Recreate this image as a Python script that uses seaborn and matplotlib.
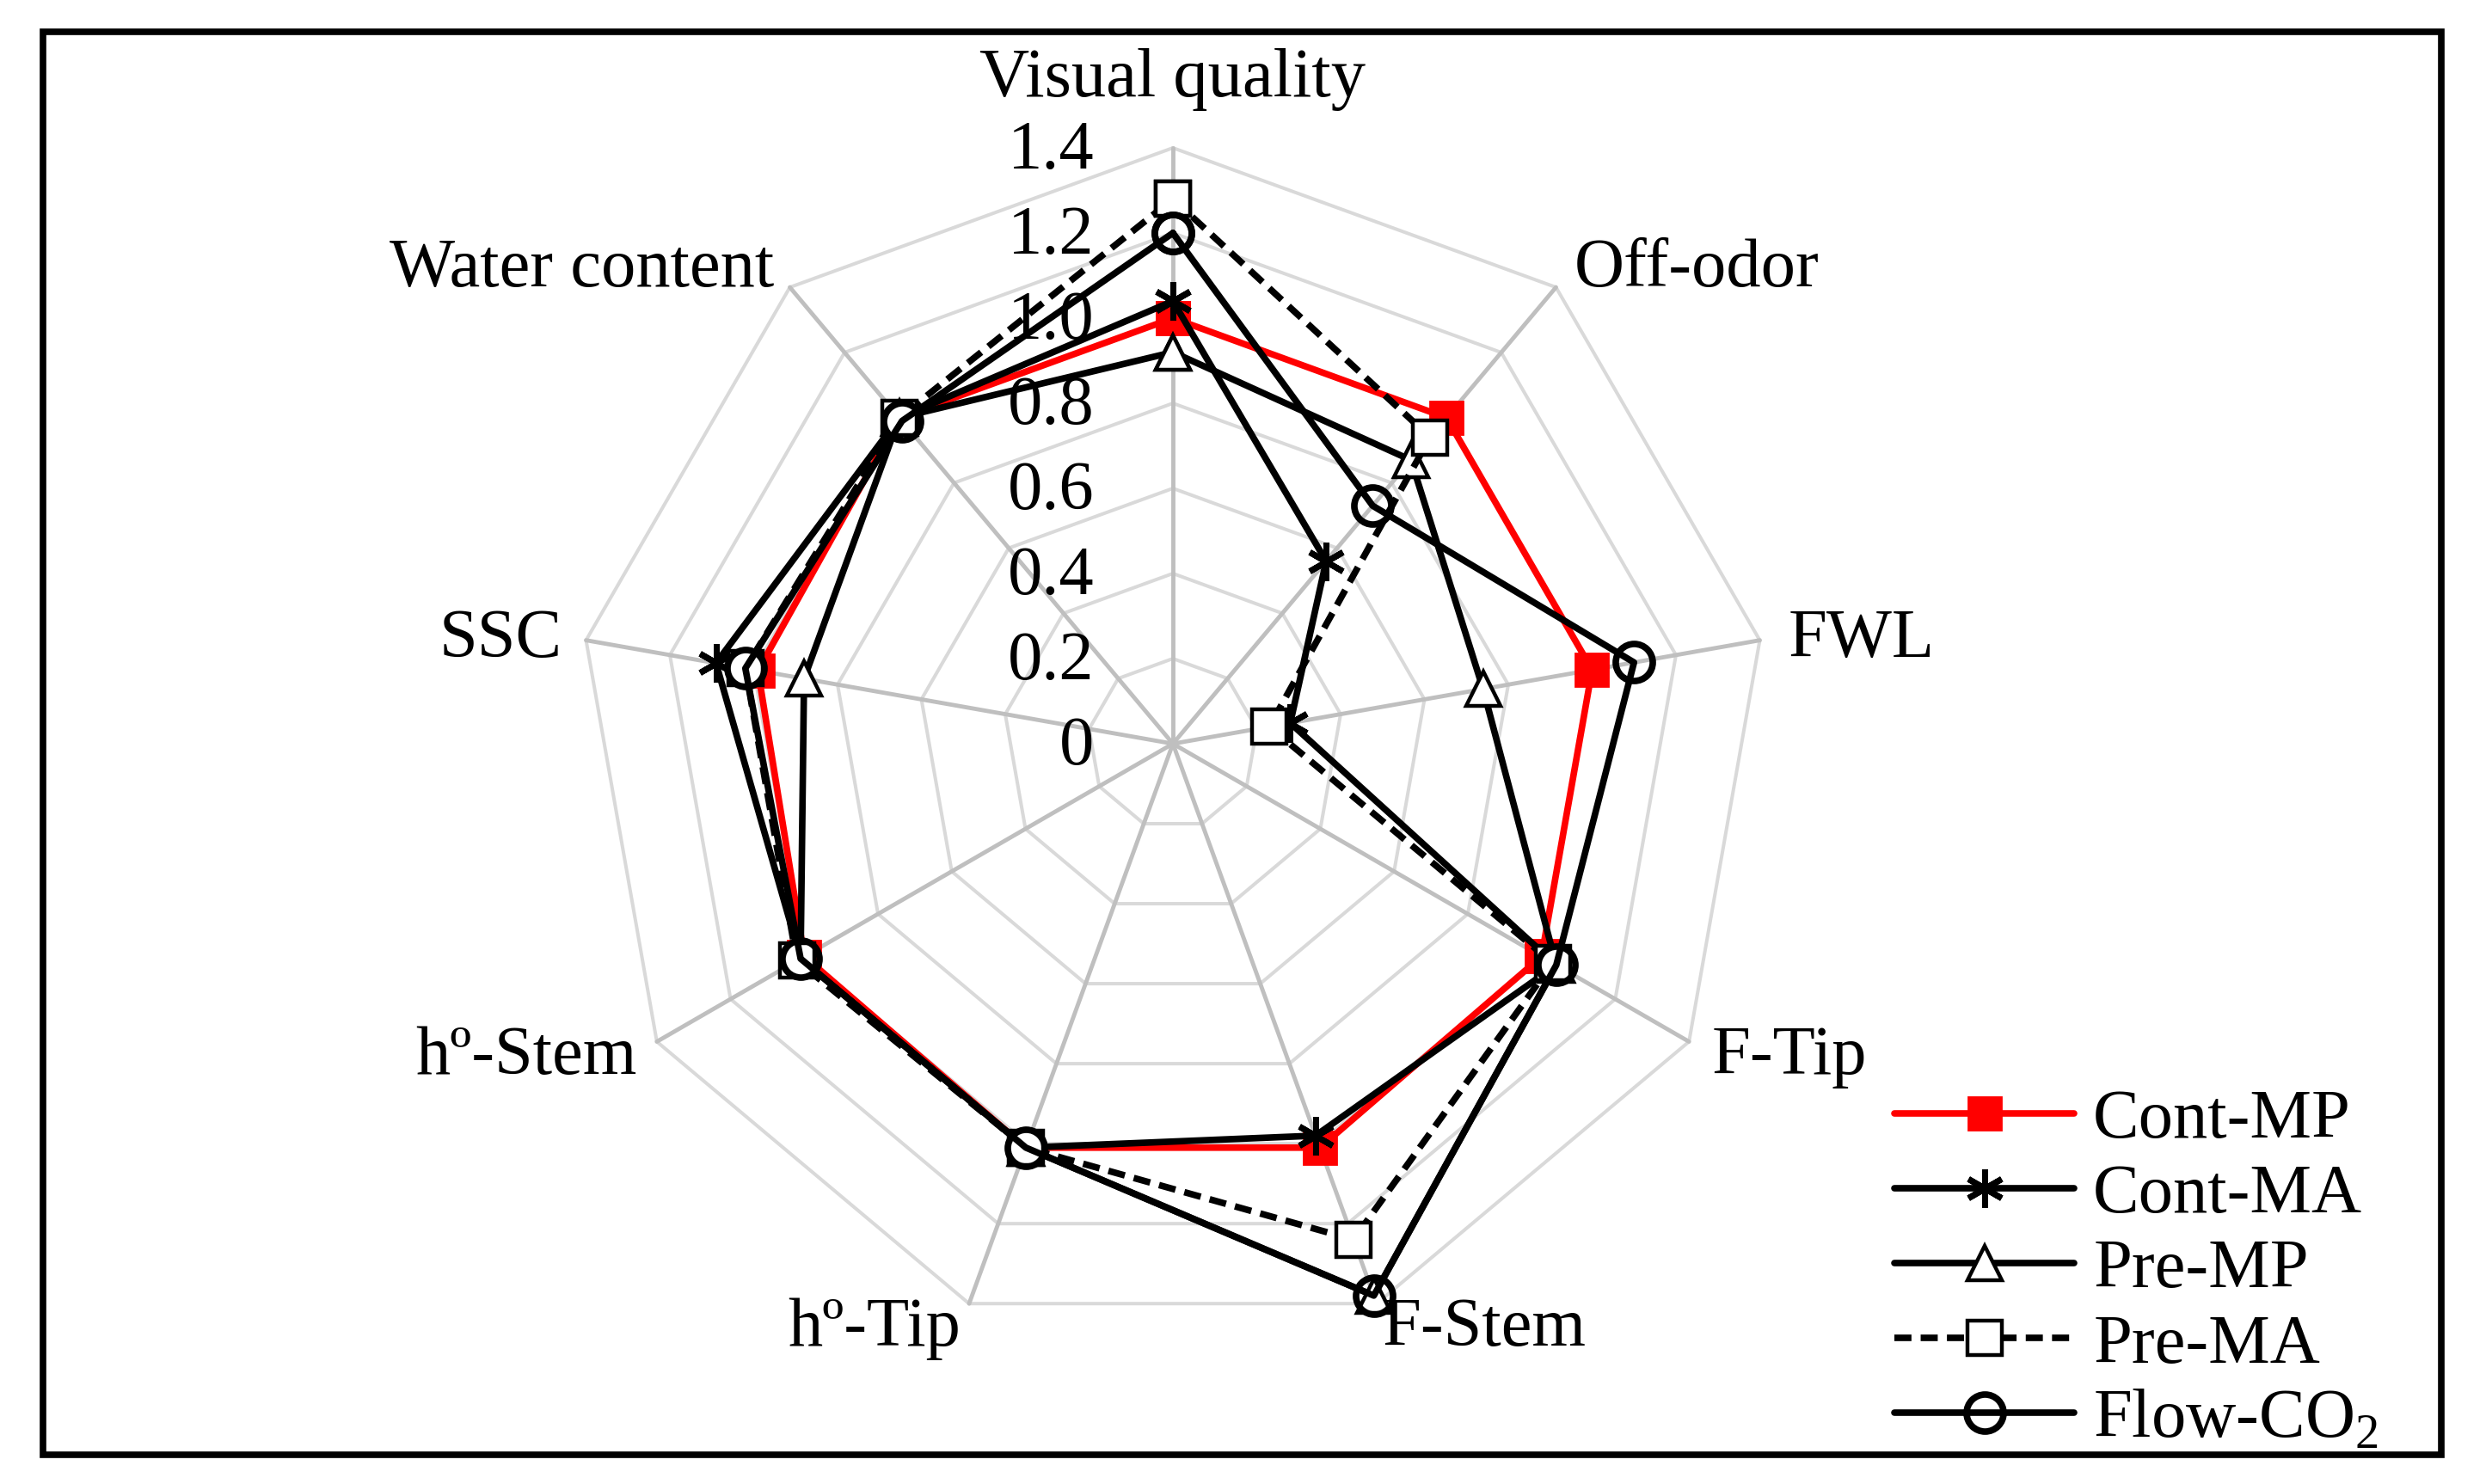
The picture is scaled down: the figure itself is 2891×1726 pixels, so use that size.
import numpy as np
import pandas as pd
import matplotlib
matplotlib.use("Agg")
import matplotlib.pyplot as plt
import seaborn as sns
from matplotlib.patches import Rectangle

# ---------------- data ----------------
categories = ["Visual quality", "Off-odor", "FWL", "F-Tip", "F-Stem",
              "hº-Tip", "hº-Stem", "SSC", "Water content"]
cont_mp = [1.00, 1.00, 1.00, 1.00, 1.01, 1.01, 1.00, 0.99, 1.00]
cont_ma = [1.04, 0.56, 0.28, 1.04, 0.98, 1.01, 1.01, 1.09, 1.00]
pre_mp = [0.92, 0.87, 0.74, 1.04, 1.38, 1.01, 1.01, 0.88, 1.00]
pre_ma = [1.28, 0.94, 0.23, 1.03, 1.24, 1.01, 1.02, 1.02, 1.00]
flow_co2 = [1.20, 0.73, 1.10, 1.04, 1.38, 1.01, 1.01, 1.02, 0.99]
series_names = ["Cont-MP", "Cont-MA", "Pre-MP", "Pre-MA", "Flow-CO$_\\mathregular{2}$"]
r_ticks = [0, 0.2, 0.4, 0.6, 0.8, 1.0, 1.2, 1.4]
r_tick_labels = ["0", "0.2", "0.4", "0.6", "0.8", "1.0", "1.2", "1.4"]

# ---------------- style ----------------
sns.set_theme(style="white")
plt.rcParams["font.family"] = ["Liberation Serif", "DejaVu Serif"]
plt.rcParams["mathtext.fontset"] = "custom"
plt.rcParams["mathtext.rm"] = "Liberation Serif"
plt.rcParams["text.color"] = "black"
FS = 58

fig = plt.figure(figsize=(28.91, 17.26), dpi=100)
fig.patch.set_facecolor("white")

cx, cy, R = 1364 / 2891, 1 - 865 / 1726, 693
w, h = R / 2891, R / 1726
ax = fig.add_axes([cx - w, cy - h, 2 * w, 2 * h], projection="polar")
ax.set_theta_zero_location("N")
ax.set_theta_direction(-1)
ax.set_facecolor("none")

n = len(categories)
theta = np.linspace(0, 2 * np.pi, n, endpoint=False)
theta_c = np.append(theta, theta[0])

# polygon grid rings
for rv in r_ticks[1:]:
    ax.plot(theta_c, [rv] * (n + 1), color="#d9d9d9", lw=2.9, zorder=1, clip_on=False)
# spokes
for th in theta:
    ax.plot([th, th], [0, r_ticks[-1]], color="#bfbfbf", lw=3.5, zorder=1.5, clip_on=False)

styles = [
    dict(color="red", marker="s", ms=27, mfc="red", mec="red", mew=2, ls="-"),
    dict(color="black", marker=(6, 2, 0), ms=32, mfc="black", mec="black", mew=5, ls="-"),
    dict(color="black", marker="^", ms=29, mfc="white", mec="black", mew=3.2, ls="-"),
    dict(color="black", marker="s", ms=29, mfc="white", mec="black", mew=3.2, ls="--"),
    dict(color="black", marker="o", ms=31, mfc="none", mec="black", mew=5.5, ls="-"),
]
all_series = [cont_mp, cont_ma, pre_mp, pre_ma, flow_co2]
handles = []
for i, (vals, st) in enumerate(zip(all_series, styles)):
    df = pd.DataFrame({"theta": theta_c, "r": np.append(vals, vals[0])})
    before = len(ax.lines)
    sns.lineplot(data=df, x="theta", y="r", ax=ax, sort=False, estimator=None,
                 color=st["color"], marker=st["marker"], legend=False, zorder=3 + i)
    line = ax.lines[before]
    line.set_linewidth(5.5)
    line.set_marker(st["marker"])
    line.set_markersize(st["ms"])
    line.set_markerfacecolor(st["mfc"])
    line.set_markeredgecolor(st["mec"])
    line.set_markeredgewidth(st["mew"])
    line.set_clip_on(False)
    if st["ls"] == "--":
        line.set_dashes((2.6, 1.4))
    handles.append(line)

ax.set_ylim(0, r_ticks[-1])
ax.grid(False)
ax.spines["polar"].set_visible(False)
ax.set_xticks([])
ax.set_yticks([])
ax.set_xlabel("")
ax.set_ylabel("")

# radial tick labels along the top spoke
for rv, lab in zip(r_ticks, r_tick_labels):
    ax.annotate(lab, xy=(0, rv), xytext=(-66, -3), textcoords="offset points",
                ha="right", va="center", fontsize=FS, zorder=2, annotation_clip=False)

# category labels
label_pos = [
    ((0, 57), "center"),
    ((15, 15), "left"),
    ((24, 0), "left"),
    ((19, -13), "left"),
    ((5, -21), "left"),
    ((-7, -21), "right"),
    ((-17, -13), "right"),
    ((-20, 0), "right"),
    ((-13, 15), "right"),
]
for th, cat, (off, ha) in zip(theta, categories, label_pos):
    ax.annotate(cat, xy=(th, r_ticks[-1]), xytext=off, textcoords="offset points",
                ha=ha, va="center", fontsize=FS, annotation_clip=False, zorder=10)

# legend
fig.legend(handles, series_names, loc="upper left", bbox_to_anchor=(0.762, 0.266),
           frameon=False, fontsize=FS, handlelength=2.6, handletextpad=0.27,
           labelspacing=0.17, borderpad=0, borderaxespad=0)

# outer frame
fig.add_artist(Rectangle((0.0173, 0.0197), 0.982 - 0.0173, 0.9786 - 0.0197,
                         transform=fig.transFigure, fill=False, lw=5.5, ec="black"))

fig.savefig("out.png", dpi=100, facecolor="white")
